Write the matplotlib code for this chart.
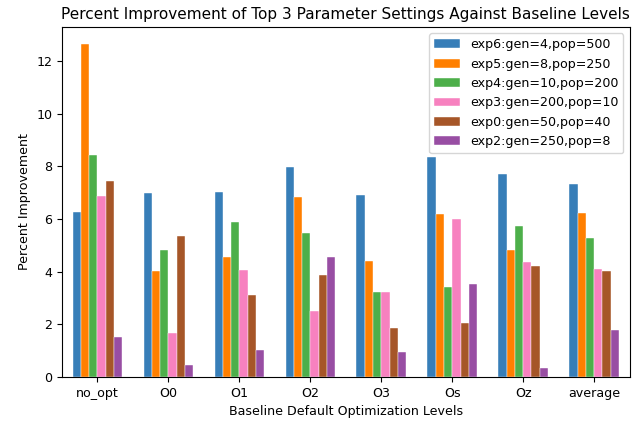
import numpy as np
import matplotlib.pyplot as plt

levels = ['no_opt', 'O0', 'O1', 'O2', 'O3', 'Os', 'Oz', 'average']
series_names = ['exp6:gen=4,pop=500', 'exp5:gen=8,pop=250', 'exp4:gen=10,pop=200',
                'exp3:gen=200,pop=10', 'exp0:gen=50,pop=40', 'exp2:gen=250,pop=8']

exp6 = [6.28, 6.97, 7.01, 7.99, 6.92, 8.34, 7.70, 7.32]
exp5 = [12.66, 4.03, 4.57, 6.82, 4.42, 6.19, 4.82, 6.23]
exp4 = [8.44, 4.82, 5.89, 5.45, 3.23, 3.40, 5.74, 5.29]
exp3 = [6.87, 1.67, 4.08, 2.49, 3.23, 5.99, 4.38, 4.12]
exp0 = [7.46, 5.35, 3.13, 3.88, 1.86, 2.06, 4.23, 4.04]
exp2 = [1.52, 0.44, 1.03, 4.55, 0.94, 3.53, 0.34, 1.77]

colors = ['#377eb8', '#ff7f00', '#4daf4a', '#f781bf', '#a65628', '#984ea3']

plt.rcParams['font.size'] = 9.14

fig, ax = plt.subplots(figsize=(6.36, 4.21), dpi=100)
fig.subplots_adjust(left=0.0975, right=0.99, top=0.936, bottom=0.1045)

x = np.arange(len(levels))
n = 6
width = 0.7 / n
for i, (vals, name) in enumerate(zip([exp6, exp5, exp4, exp3, exp0, exp2], series_names)):
    offset = (i - (n - 1) / 2) * width
    ax.bar(x + offset, vals, width, color=colors[i], label=name,
           edgecolor='white', linewidth=0.3)

ax.set_xticks(x)
ax.set_xticklabels(levels)
ax.set_xlim(-0.5, len(levels) - 0.5)
ax.set_xlabel('Baseline Default Optimization Levels')
ax.set_ylabel('Percent Improvement')
ax.set_title('Percent Improvement of Top 3 Parameter Settings Against Baseline Levels')
ax.legend(loc='upper right')

plt.savefig('out.png')
